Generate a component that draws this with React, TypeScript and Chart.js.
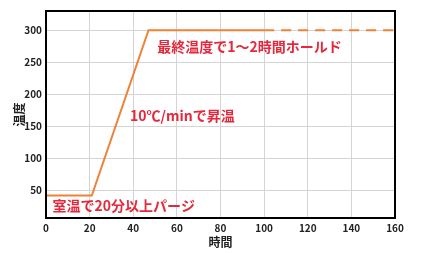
import React, { useEffect, useRef } from "react";
import { Chart, registerables } from "chart.js";

Chart.register(...registerables);

const timeValues = [0, 21, 47, 100, 160];
const tempValues = [42, 42, 300, 300, 300];
const yTicks = [50, 100, 150, 200, 250, 300];
const xTicks = [0, 20, 40, 60, 80, 100, 120, 140, 160];
const noteTexts = ["最終温度で1～2時間ホールド", "10℃/minで昇温", "室温で20分以上パージ"];
const noteX = [51, 38.5, 3];
const noteY = [275, 166, 26];

const FONT = "'Noto Sans CJK JP', 'Noto Sans', sans-serif";
const RED = "#e5283c";
const ORANGE = "#ee8236";

const framePlugin = {
  id: "frame",
  afterDatasetsDraw(chart: any) {
    const { ctx, chartArea, scales } = chart;
    ctx.save();
    ctx.fillStyle = RED;
    ctx.font = `bold 14px ${FONT}`;
    ctx.textBaseline = "middle";
    ctx.textAlign = "left";
    noteTexts.forEach((t, i) => {
      ctx.fillText(t, scales.x.getPixelForValue(noteX[i]), scales.y.getPixelForValue(noteY[i]));
    });
    ctx.strokeStyle = "#000";
    ctx.lineWidth = 2;
    ctx.strokeRect(chartArea.left, chartArea.top, chartArea.right - chartArea.left, chartArea.bottom - chartArea.top);
    ctx.restore();
  },
};

export default function App() {
  const ref = useRef<HTMLCanvasElement>(null);
  useEffect(() => {
    const chart = new Chart(ref.current!, {
      type: "line",
      data: {
        datasets: [
          {
            data: timeValues.map((x, i) => ({ x, y: tempValues[i] })),
            borderColor: ORANGE,
            borderWidth: 2,
            pointRadius: 0,
            tension: 0,
            segment: {
              borderDash: (c: any) => (c.p0DataIndex >= 3 ? [10, 7] : undefined),
            },
          },
        ],
      },
      options: {
        animation: false,
        responsive: false,
        maintainAspectRatio: false,
        layout: { padding: { left: 0, top: 11, right: 34, bottom: 0 } },
        plugins: { legend: { display: false }, tooltip: { enabled: false } },
        scales: {
          x: {
            type: "linear",
            min: 0,
            max: 160,
            afterBuildTicks: (s: any) => {
              s.ticks = xTicks.map((v) => ({ value: v }));
            },
            afterFit: (s: any) => {
              s.height = 35;
            },
            grid: { color: "#d4d4d4", lineWidth: 1, drawTicks: false },
            border: { display: false },
            ticks: { color: "#222", font: { family: FONT, size: 10, weight: "bold" }, padding: 4, maxRotation: 0 },
            title: { display: true, text: "時間", color: "#222", font: { family: FONT, size: 12, weight: "bold" }, padding: { top: 0, bottom: 3 } },
          },
          y: {
            type: "linear",
            min: 7,
            max: 330,
            afterBuildTicks: (s: any) => {
              s.ticks = yTicks.map((v) => ({ value: v }));
            },
            afterFit: (s: any) => {
              s.width = 46;
            },
            grid: { color: "#d4d4d4", lineWidth: 1, drawTicks: false },
            border: { display: false },
            ticks: { color: "#222", font: { family: FONT, size: 10, weight: "bold" }, padding: 4 },
            title: { display: true, text: "温度", color: "#222", font: { family: FONT, size: 12, weight: "bold" }, padding: { top: 12, bottom: 0 } },
          },
        },
      },
      plugins: [framePlugin],
    } as any);
    return () => chart.destroy();
  }, []);
  return (
    <div style={{ position: "fixed", left: 0, top: 0, width: 429, height: 253, background: "#fff" }}>
      <canvas ref={ref} width={429} height={253} style={{ display: "block" }} />
    </div>
  );
}
